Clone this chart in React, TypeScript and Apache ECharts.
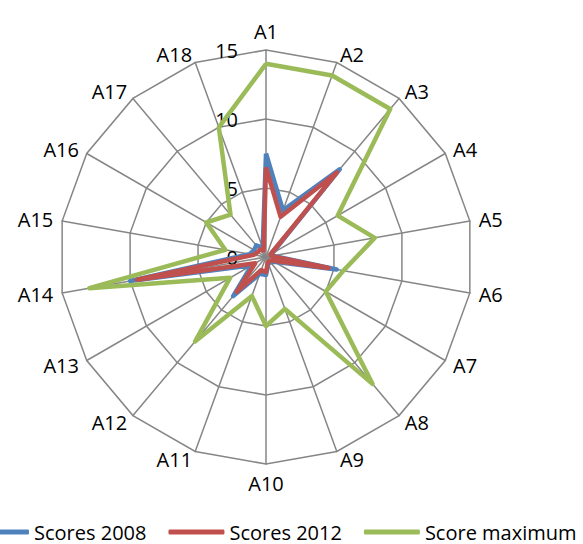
import React, { useEffect, useRef } from "react";
import * as echarts from "echarts";

const indicators = ["A1","A2","A3","A4","A5","A6","A7","A8","A9","A10","A11","A12","A13","A14","A15","A16","A17","A18"];
const scores2008 = [7.5, 3.6, 8.3, 0.5, 0.5, 5.2, 0.7, 0.5, 0.5, 1.3, 1.3, 3.7, 1.2, 10, 1.2, 1.0, 1.1, 0.7];
const scores2012 = [6.5, 3.1, 8.0, 0.4, 0.4, 4.6, 0.5, 0.4, 0.4, 1.1, 1.0, 3.3, 0.9, 9.5, 0.9, 0.7, 0.7, 0.5];
const scoreMax = [14, 14, 14, 6, 8, 5.7, 5, 12, 4, 5, 3, 8, 3, 13, 3, 5, 4, 10];
const seriesNames = ["Scores 2008", "Scores 2012", "Score maximum"];
const seriesColors = ["#4F81BD", "#C0504D", "#9BBB59"];
const ringTicks = [0, 5, 10, 15];

const FONT = "'Open Sans', 'Noto Sans', sans-serif";

// ECharts radar runs counter-clockwise; reorder so indicators run clockwise.
const order = [0, ...Array.from({ length: indicators.length - 1 }, (_, i) => indicators.length - 1 - i)];
const reorder = (arr: any[]) => order.map((i) => arr[i]);

export default function App() {
  const ref = useRef<HTMLDivElement>(null);
  useEffect(() => {
    if (!ref.current) return;
    const chart = echarts.init(ref.current, null, { renderer: "svg" });
    const maxV = ringTicks[ringTicks.length - 1];
    const allData = [scores2008, scores2012, scoreMax];
    chart.setOption({
      animation: false,
      backgroundColor: "#ffffff",
      textStyle: { fontFamily: FONT },
      legend: {
        data: seriesNames,
        left: -32,
        top: 517,
        icon: "roundRect",
        itemWidth: 56,
        itemHeight: 5,
        itemGap: 22,
        textStyle: { fontSize: 20, color: "#000", fontFamily: FONT },
      },
      radar: {
        center: [266, 257],
        radius: 207,
        startAngle: 90,
        shape: "polygon",
        splitNumber: 3,
        nameGap: 9,
        axisName: { color: "#000", fontSize: 20, fontFamily: FONT },
        splitLine: { lineStyle: { color: "#868686", width: 1.5 } },
        axisLine: { lineStyle: { color: "#868686", width: 1.5 } },
        splitArea: { show: false },
        axisLabel: { show: false },
        indicator: reorder(indicators).map((n: string, i: number) => {
          const ind: any = { name: n, min: 0, max: maxV };
          if (i === 0) {
            ind.axisLabel = {
              show: true,
              color: "#000",
              fontSize: 20,
              fontFamily: FONT,
              margin: 28,
              padding: [6, 0, 0, 0],
              showMinLabel: true,
              showMaxLabel: true,
            };
          }
          return ind;
        }),
      },
      series: [
        {
          type: "radar",
          symbol: "none",
          data: allData.map((d, k) => ({
            name: seriesNames[k],
            value: reorder(d),
            itemStyle: { color: seriesColors[k] },
            lineStyle: { color: seriesColors[k], width: 4.5, join: "round" },
          })),
        },
      ],
    });
    return () => chart.dispose();
  }, []);
  return (
    <div
      ref={ref}
      style={{ position: "fixed", left: 0, top: 0, width: 583, height: 544 }}
    />
  );
}
